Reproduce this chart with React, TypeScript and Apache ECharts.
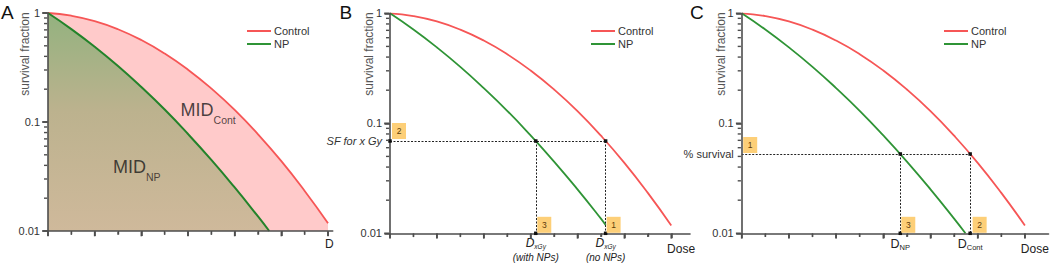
import React, { useEffect, useRef } from "react";
import * as echarts from "echarts";

// ---------- data ----------
const doses = [0, 0.5, 1, 1.5, 2, 2.5, 3, 3.5, 4, 4.5, 5, 5.5, 6];
const controlSF = [1, 0.944, 0.843, 0.71, 0.565, 0.425, 0.302, 0.203, 0.129, 0.0771, 0.0437, 0.0233, 0.0118];
const npDoses = [0, 0.5, 1, 1.5, 2, 2.5, 3, 3.5, 4, 4.5, 4.74];
const npSF = [1, 0.712, 0.49, 0.326, 0.209, 0.13, 0.0776, 0.0449, 0.0251, 0.0136, 0.01];
const npDosesB = [0, 0.5, 1, 1.5, 2, 2.5, 3, 3.5, 4, 4.5, 4.6];
const npSFB = [1, 0.712, 0.49, 0.326, 0.209, 0.13, 0.0776, 0.0449, 0.0251, 0.0136, 0.0119];

const xMajorTicks = [0, 1, 2, 3, 4, 5, 6];
const xMinorTicks = [0.5, 1.5, 2.5, 3.5, 4.5, 5.5];
const yMajorTicks = [0.01, 0.1, 1];
const yMinorTicks = [0.02, 0.03, 0.04, 0.05, 0.06, 0.07, 0.08, 0.09, 0.2, 0.3, 0.4, 0.5, 0.6, 0.7, 0.8, 0.9];
const yTickLabels = ["0.01", "0.1", "1"];

// panel A annotations
const midContPos = [2.83, 0.1135];
const midNpPos = [1.38, 0.0337];
// panel B
const sfB = 0.069;
const doseWithNpB = 3.11;
const doseNoNpB = 4.6;
// panel C
const sfC = 0.0526;
const doseNpC = 3.36;
const doseContC = 4.84;
const doseLabelPos = 6.21;
const doseLabelPosA = 6.03;

// ---------- styles ----------
const FONT = "'Liberation Sans', Arial, Helvetica, sans-serif";
const RED = "#f65656";
const GREEN = "#2f9436";
const GREEN_A = "#23832a";
const AXIS = "#4d4d4d";
const BOX = "#fdcf78";
const DOT_LINE = { type: [2, 1.5], color: "#222", width: 1 };

// unit = pixels per dose unit
const panels = [
  { left: 48, top: 13, unit: 46.67, height: 218, xMax: 6.1 },
  { left: 390, top: 13.3, unit: 46.875, height: 220, xMax: 6.4 },
  { left: 741.7, top: 13.3, unit: 47.2, height: 220, xMax: 6.5 },
];

const pairs = (xs: number[], ys: number[]) => xs.map((x, i) => [x, ys[i]]);
const near = (a: number, b: number) => Math.abs(a - b) < 1e-6;

function xAxesFor(gi: number, max: number, labelValues: number[], formatter: any, labelExtra: any) {
  return [
    {
      type: "value", gridIndex: 2 * gi, min: 0, max: 6, interval: 1, position: "bottom", z: 6,
      axisLine: { show: false, onZero: false },
      axisTick: { show: true, length: 5, lineStyle: { color: AXIS, width: 1.6 } },
      minorTick: { show: true, splitNumber: 2, length: 3.5, lineStyle: { color: AXIS, width: 1.4 } },
      splitLine: { show: false },
      minorSplitLine: { show: false },
      axisLabel: { show: false },
    },
    {
      type: "value", gridIndex: 2 * gi + 1, min: 0, max, position: "bottom", z: 5,
      axisLine: { show: true, onZero: false, lineStyle: { color: AXIS, width: 1.6 } },
      axisTick: { show: false },
      splitLine: { show: false },
      axisLabel: { show: true, customValues: labelValues, formatter, fontFamily: FONT, color: "#222", ...labelExtra },
    },
  ];
}

function yAxesFor(gi: number, extraValue: number | null, extraText: string, extraRich: string) {
  const labelValues = extraValue == null ? yMajorTicks : [0.01, extraValue, 0.1, 1];
  return [
    {
      type: "log", logBase: 10, gridIndex: 2 * gi, min: 0.01, max: 1, position: "left", z: 5,
      axisLine: { show: true, onZero: false, lineStyle: { color: AXIS, width: 1.6 } },
      axisTick: { show: true, length: 5.5, lineStyle: { color: AXIS, width: 1.6 } },
      minorTick: { show: false },
      splitLine: { show: false },
      axisLabel: {
        show: true, customValues: labelValues, margin: 8, fontSize: 11, color: "#333", fontFamily: FONT,
        formatter: (v: number) => {
          if (extraValue != null && near(v, extraValue)) return `{${extraRich}|${extraText}}`;
          const idx = yMajorTicks.findIndex((t) => near(t, v));
          return idx >= 0 ? yTickLabels[idx] : "";
        },
        rich: {
          it: { fontSize: 11, fontStyle: "italic", color: "#333", fontFamily: FONT },
          rg: { fontSize: 11, color: "#333", fontFamily: FONT },
        },
      },
    },
    { type: "log", logBase: 10, gridIndex: 2 * gi + 1, min: 0.01, max: 1, show: false },
  ];
}

// tick marks drawn through the axes' scales (custom series, api.coord)
function tickSeries(xi: number) {
  const mk = (data: number[][], dir: "x" | "y", len: number, w: number) => ({
    type: "custom", xAxisIndex: xi, yAxisIndex: xi, silent: true, clip: false, z: 9,
    data,
    renderItem: (_p: any, api: any) => {
      const pt = api.coord([api.value(0), api.value(1)]);
      const shape = dir === "x"
        ? { x1: pt[0], y1: pt[1] + 0.8, x2: pt[0], y2: pt[1] + 0.8 + len }
        : { x1: pt[0] - 0.8, y1: pt[1], x2: pt[0] - 0.8 - len, y2: pt[1] };
      return { type: "line", shape, style: { stroke: AXIS, lineWidth: w } };
    },
  });
  return [
    mk(xMajorTicks.map((x) => [x, 0.01]), "x", 4.5, 1.6),
    mk(xMinorTicks.map((x) => [x, 0.01]), "x", 3, 1.4),
    mk(yMajorTicks.map((y) => [0, y]), "y", 5, 1.6),
    mk(yMinorTicks.map((y) => [0, y]), "y", 3.2, 1.4),
  ];
}

function boxes(xi: number, items: { name: string; value: number[]; off: number[] }[]) {
  return {
    type: "scatter", xAxisIndex: xi, yAxisIndex: xi, clip: false, silent: true, z: 8,
    symbol: "rect", symbolSize: [14, 16],
    itemStyle: { color: BOX, opacity: 1 },
    label: { show: true, position: "inside", formatter: "{b}", fontSize: 8.5, color: "#5c3b0a", fontFamily: FONT },
    data: items.map((it) => ({ name: it.name, value: it.value, symbolOffset: it.off })),
  };
}

function dotsWithLines(xi: number, pts: number[][], segs: number[][][]) {
  return {
    type: "scatter", xAxisIndex: xi, yAxisIndex: xi, clip: false, silent: true, z: 7,
    symbol: "rect", symbolSize: 3.5, itemStyle: { color: "#111", opacity: 1 },
    data: pts,
    markLine: {
      silent: true, symbol: ["none", "none"], animation: false,
      label: { show: false }, lineStyle: DOT_LINE,
      data: segs.map((s) => [{ coord: s[0] }, { coord: s[1] }]),
    },
  };
}

function buildOption() {
  const xAxis = [
    ...xAxesFor(0, panels[0].xMax, [doseLabelPosA], () => "Dose", {
      fontSize: 12, margin: 7, width: 10, overflow: "truncate", ellipsis: "",
    }),
    ...xAxesFor(1, panels[1].xMax, [doseWithNpB, doseNoNpB, doseLabelPos], (v: number) => {
      if (near(v, doseWithNpB)) return "{d|D}{s|xGy}\n{p|(with NPs)}";
      if (near(v, doseNoNpB)) return "{d|D}{s|xGy}\n{p|(no NPs)}";
      return "{dose|Dose}";
    }, {
      margin: 4,
      rich: {
        d: { fontSize: 12, fontStyle: "italic", lineHeight: 13, padding: [0, 0, 1, 0], verticalAlign: "bottom", color: "#222", fontFamily: FONT },
        s: { fontSize: 6.5, fontStyle: "italic", lineHeight: 7, verticalAlign: "bottom", color: "#222", fontFamily: FONT },
        p: { fontSize: 10, fontStyle: "italic", lineHeight: 14, color: "#222", fontFamily: FONT },
        dose: { fontSize: 12, padding: [6, 0, 0, 0], color: "#222", fontFamily: FONT },
      },
    }),
    ...xAxesFor(2, panels[2].xMax, [doseNpC, doseContC, doseLabelPos], (v: number) => {
      if (near(v, doseNpC)) return "{d|D}{s|NP}";
      if (near(v, doseContC)) return "{d|D}{s|Cont}";
      return "{dose|Dose}";
    }, {
      margin: 4,
      rich: {
        d: { fontSize: 12.5, lineHeight: 14, padding: [0, 0, 1, 0], verticalAlign: "bottom", color: "#222", fontFamily: FONT },
        s: { fontSize: 7.5, lineHeight: 8, verticalAlign: "bottom", color: "#222", fontFamily: FONT },
        dose: { fontSize: 12, padding: [6, 0, 0, 0], color: "#222", fontFamily: FONT },
      },
    }),
  ];
  const yAxis = [
    ...yAxesFor(0, null, "", "rg"),
    ...yAxesFor(1, sfB, "SF for x Gy", "it"),
    ...yAxesFor(2, sfC, "% survival", "rg"),
  ];
  const grid: any[] = [];
  panels.forEach((p) => {
    grid.push({ left: p.left, top: p.top, width: 6 * p.unit, height: p.height });
    grid.push({ left: p.left, top: p.top, width: p.xMax * p.unit, height: p.height });
  });

  const midRich = {
    m: { fontSize: 18, lineHeight: 18, padding: [0, 0, 6, 0], verticalAlign: "bottom", color: "#1a1a1a", fontFamily: FONT },
    s: { fontSize: 10.5, lineHeight: 12, verticalAlign: "bottom", color: "#2a2020", fontFamily: FONT },
  };

  const series: any[] = [
    // ---- Panel A ----
    {
      type: "line", name: "Control", xAxisIndex: 0, yAxisIndex: 0, data: pairs(doses, controlSF),
      smooth: true, symbol: "none", color: RED, lineStyle: { color: RED, width: 1.8 },
      areaStyle: { color: "#ffcaca", opacity: 1, origin: "start" }, z: 2,
    },
    {
      type: "line", name: "NP", xAxisIndex: 0, yAxisIndex: 0, data: pairs(npDoses, npSF),
      smooth: true, symbol: "none", color: GREEN, lineStyle: { color: GREEN_A, width: 2 },
      areaStyle: {
        opacity: 1, origin: "start",
        color: new echarts.graphic.LinearGradient(0, 0, 0, 1, [
          { offset: 0, color: "#93b27f" },
          { offset: 0.45, color: "#bcb28e" },
          { offset: 1, color: "#cfb99b" },
        ]),
      },
      z: 3,
    },
    {
      type: "scatter", xAxisIndex: 0, yAxisIndex: 0, silent: true, clip: false, z: 6,
      symbol: "rect", symbolSize: 1, itemStyle: { color: "rgba(0,0,0,0)" },
      label: { show: true, position: "right", distance: 0, formatter: "{m|MID}{s|Cont}", rich: midRich },
      data: [midContPos],
    },
    {
      type: "scatter", xAxisIndex: 0, yAxisIndex: 0, silent: true, clip: false, z: 6,
      symbol: "rect", symbolSize: 1, itemStyle: { color: "rgba(0,0,0,0)" },
      label: { show: true, position: "right", distance: 0, formatter: "{m|MID}{s|NP}", rich: midRich },
      data: [midNpPos],
    },
    ...tickSeries(0),
    // ---- Panel B ----
    {
      type: "line", name: "Control", xAxisIndex: 2, yAxisIndex: 2, data: pairs(doses, controlSF),
      smooth: true, symbol: "none", color: RED, lineStyle: { color: RED, width: 1.8 }, z: 2,
    },
    {
      type: "line", name: "NP", xAxisIndex: 2, yAxisIndex: 2, data: pairs(npDosesB, npSFB),
      smooth: true, symbol: "none", color: GREEN, lineStyle: { color: GREEN, width: 1.8 }, z: 3,
    },
    dotsWithLines(2,
      [[0, sfB], [doseWithNpB, sfB], [doseNoNpB, sfB], [doseWithNpB, 0.01], [doseNoNpB, 0.01]],
      [
        [[0, sfB], [doseNoNpB, sfB]],
        [[doseWithNpB, sfB], [doseWithNpB, 0.01]],
        [[doseNoNpB, sfB], [doseNoNpB, 0.01]],
      ]),
    boxes(2, [
      { name: "2", value: [0, sfB], off: [9, -10] },
      { name: "3", value: [doseWithNpB, 0.01], off: [8.5, -8.5] },
      { name: "1", value: [doseNoNpB, 0.01], off: [8, -8.5] },
    ]),
    ...tickSeries(2),
    // ---- Panel C ----
    {
      type: "line", name: "Control", xAxisIndex: 4, yAxisIndex: 4, data: pairs(doses, controlSF),
      smooth: true, symbol: "none", color: RED, lineStyle: { color: RED, width: 1.8 }, z: 2,
    },
    {
      type: "line", name: "NP", xAxisIndex: 4, yAxisIndex: 4, data: pairs(npDoses, npSF),
      smooth: true, symbol: "none", color: GREEN, lineStyle: { color: GREEN, width: 1.8 }, z: 3,
    },
    dotsWithLines(4,
      [[doseNpC, sfC], [doseContC, sfC], [doseNpC, 0.01], [doseContC, 0.01]],
      [
        [[0, sfC], [doseContC, sfC]],
        [[doseNpC, sfC], [doseNpC, 0.01]],
        [[doseContC, sfC], [doseContC, 0.01]],
      ]),
    boxes(4, [
      { name: "1", value: [0, sfC], off: [8.5, -9] },
      { name: "3", value: [doseNpC, 0.01], off: [8, -8.5] },
      { name: "2", value: [doseContC, 0.01], off: [9.5, -8.5] },
    ]),
    ...tickSeries(4),
  ];

  const legendLeft = [247, 591, 944];
  const legend = legendLeft.map((left) => ({
    left, top: 24.5, orient: "vertical", icon: "rect", itemWidth: 24, itemHeight: 2, itemGap: 0,
    selectedMode: false, padding: 0,
    textStyle: { fontSize: 11, color: "#333", fontFamily: FONT, lineHeight: 13, padding: [0, 0, 0, -2] },
    data: ["Control", "NP"],
  }));

  const letter = (text: string, x: number) => ({
    type: "text", x, y: 3, z: 20,
    style: { text, fontSize: 19, fill: "#111", fontFamily: FONT, verticalAlign: "top" },
  });
  const yName = (x: number) => ({
    type: "text", x, y: 54, rotation: Math.PI / 2, z: 20,
    style: { text: "survival fraction", fontSize: 12, fill: "#555", fontFamily: FONT, align: "center", verticalAlign: "middle" },
  });

  return {
    animation: false,
    backgroundColor: "#ffffff",
    grid, xAxis, yAxis, series, legend,
    graphic: [letter("A", 1), letter("B", 339.5), letter("C", 690), yName(25), yName(369), yName(721)],
  };
}

export default function App() {
  const ref = useRef<HTMLDivElement>(null);
  useEffect(() => {
    document.body.style.margin = "0";
    const chart = echarts.init(ref.current!, undefined, { renderer: "svg" });
    chart.setOption(buildOption() as any);
    return () => chart.dispose();
  }, []);
  return <div ref={ref} style={{ width: 1052, height: 266 }} />;
}
